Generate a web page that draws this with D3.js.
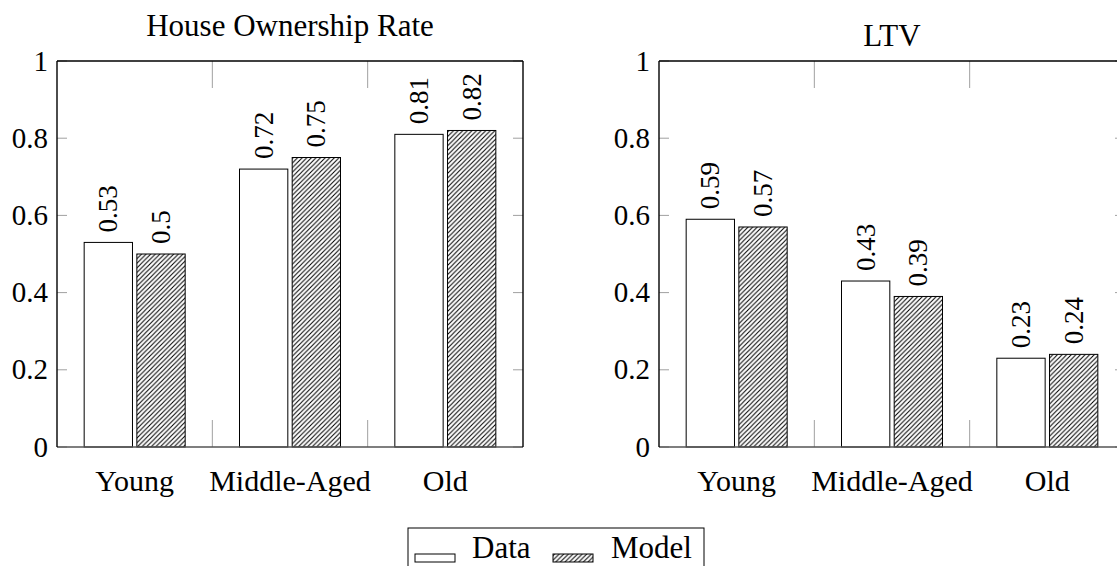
<!DOCTYPE html>
<html>
<head>
<meta charset="utf-8">
<script src="https://cdn.jsdelivr.net/npm/d3@7"></script>
<style>
  html, body { margin: 0; padding: 0; background: #fff; }
  svg { display: block; }
  text { font-family: "Liberation Serif", "Times New Roman", serif; fill: #000; }
</style>
</head>
<body>
<svg id="chart" width="1117" height="566"></svg>
<script>
// ---------- data ----------
const categories = ["Young", "Middle-Aged", "Old"];
const seriesNames = ["Data", "Model"];
const ownershipData = [0.53, 0.72, 0.81];
const ownershipModel = [0.5, 0.75, 0.82];
const ltvData = [0.59, 0.43, 0.23];
const ltvModel = [0.57, 0.39, 0.24];
const yTickValues = [0, 0.2, 0.4, 0.6, 0.8, 1];
const yTickLabels = ["0", "0.2", "0.4", "0.6", "0.8", "1"];
const panelTitles = ["House Ownership Rate", "LTV"];

// ---------- layout ----------
const FONT = "Liberation Serif, Times New Roman, serif";
const svg = d3.select("#chart");
const plotTop = 61, plotBottom = 447, plotWidth = 466;
const panels = [
  { left: 57, title: panelTitles[0], titleY: 36, data: ownershipData, model: ownershipModel },
  { left: 659, title: panelTitles[1], titleY: 46, data: ltvData, model: ltvModel }
];

const defs = svg.append("defs");
const T = 4.6;
const pat = defs.append("pattern")
  .attr("id", "hatch")
  .attr("patternUnits", "userSpaceOnUse")
  .attr("width", T).attr("height", T);
pat.append("rect").attr("width", T).attr("height", T).attr("fill", "#fff");
pat.append("path")
  .attr("d", `M${-T/4},${T/4} L${T/4},${-T/4} M0,${T} L${T},0 M${T*0.75},${T*1.25} L${T*1.25},${T*0.75}`)
  .attr("stroke", "#000").attr("stroke-width", 1.05);

const y = d3.scaleLinear().domain([0, 1]).range([plotBottom, plotTop]);

panels.forEach(p => {
  const g = svg.append("g");
  const x = d3.scaleBand().domain(categories).range([p.left, p.left + plotWidth]).padding(0);
  const bw = x.bandwidth();
  const groupW = 101;
  const xs = d3.scaleBand().domain(seriesNames)
    .range([(bw - groupW) / 2, (bw + groupW) / 2])
    .paddingInner(0.083).paddingOuter(0);

  const right = p.left + plotWidth;

  // y ticks (both sides, grey, inward)
  g.append("g").selectAll("line").data(yTickValues).join("line")
    .attr("x1", p.left).attr("x2", p.left + 10)
    .attr("y1", d => y(d)).attr("y2", d => y(d))
    .attr("stroke", "#a0a0a0").attr("stroke-width", 1);
  g.append("g").selectAll("line").data(yTickValues).join("line")
    .attr("x1", right - 10).attr("x2", right)
    .attr("y1", d => y(d)).attr("y2", d => y(d))
    .attr("stroke", "#a0a0a0").attr("stroke-width", 1);

  // x separator ticks (top and bottom)
  const seps = categories.slice(1).map(c => x(c));
  g.append("g").selectAll("line").data(seps).join("line")
    .attr("x1", d => d).attr("x2", d => d)
    .attr("y1", plotBottom).attr("y2", plotBottom - 27)
    .attr("stroke", "#a0a0a0").attr("stroke-width", 1);
  g.append("g").selectAll("line").data(seps).join("line")
    .attr("x1", d => d).attr("x2", d => d)
    .attr("y1", plotTop).attr("y2", plotTop + 27)
    .attr("stroke", "#a0a0a0").attr("stroke-width", 1);

  // bars
  const rows = categories.map((c, i) => [
    { cat: c, s: "Data", v: p.data[i] },
    { cat: c, s: "Model", v: p.model[i] }
  ]).flat();

  g.append("g").selectAll("rect").data(rows).join("rect")
    .attr("x", d => x(d.cat) + xs(d.s))
    .attr("y", d => y(d.v))
    .attr("width", xs.bandwidth())
    .attr("height", d => y(0) - y(d.v))
    .attr("fill", d => d.s === "Data" ? "#fff" : "url(#hatch)")
    .attr("stroke", "#000").attr("stroke-width", 1);

  // value labels
  g.append("g").selectAll("text").data(rows).join("text")
    .attr("transform", d => {
      const cx = x(d.cat) + xs(d.s) + xs.bandwidth() / 2;
      return `translate(${cx},${y(d.v) - 10}) rotate(-90)`;
    })
    .attr("dy", "0.33em")
    .attr("text-anchor", "start")
    .attr("font-family", FONT)
    .attr("font-size", 27)
    .text(d => String(d.v));

  // frame
  g.append("line").attr("x1", p.left).attr("x2", right).attr("y1", plotBottom).attr("y2", plotBottom)
    .attr("stroke", "#555").attr("stroke-width", 1.4);
  g.append("line").attr("x1", p.left).attr("x2", right).attr("y1", plotTop).attr("y2", plotTop)
    .attr("stroke", "#000").attr("stroke-width", 1.4);
  g.append("line").attr("x1", p.left).attr("x2", p.left).attr("y1", plotTop).attr("y2", plotBottom)
    .attr("stroke", "#000").attr("stroke-width", 1.4);
  g.append("line").attr("x1", right).attr("x2", right).attr("y1", plotTop).attr("y2", plotBottom)
    .attr("stroke", "#000").attr("stroke-width", 1.4);

  // y tick labels
  g.append("g").selectAll("text").data(yTickValues).join("text")
    .attr("x", p.left - 9)
    .attr("y", d => y(d))
    .attr("dy", "0.33em")
    .attr("text-anchor", "end")
    .attr("font-family", FONT)
    .attr("font-size", 29)
    .text((d, i) => yTickLabels[i]);

  // x tick labels
  g.append("g").selectAll("text").data(categories).join("text")
    .attr("x", d => x(d) + bw / 2)
    .attr("y", 491)
    .attr("text-anchor", "middle")
    .attr("font-family", FONT)
    .attr("font-size", 30)
    .text(d => d);

  // title
  g.append("text")
    .attr("x", p.left + plotWidth / 2)
    .attr("y", p.titleY)
    .attr("text-anchor", "middle")
    .attr("font-family", FONT)
    .attr("font-size", 31)
    .text(p.title);
});

// legend
const lg = svg.append("g");
lg.append("rect").attr("x", 408).attr("y", 528).attr("width", 296).attr("height", 60)
  .attr("fill", "#fff").attr("stroke", "#000").attr("stroke-width", 1);
const legendItems = [
  { name: seriesNames[0], fill: "#fff", rx: 415, tx: 472 },
  { name: seriesNames[1], fill: "url(#hatch)", rx: 553, tx: 611 }
];
legendItems.forEach(it => {
  lg.append("rect").attr("x", it.rx).attr("y", 554).attr("width", 40).attr("height", 8)
    .attr("fill", it.fill).attr("stroke", "#000").attr("stroke-width", 1);
  lg.append("text").attr("x", it.tx).attr("y", 558)
    .attr("font-family", FONT).attr("font-size", 31).text(it.name);
});
</script>
</body>
</html>
